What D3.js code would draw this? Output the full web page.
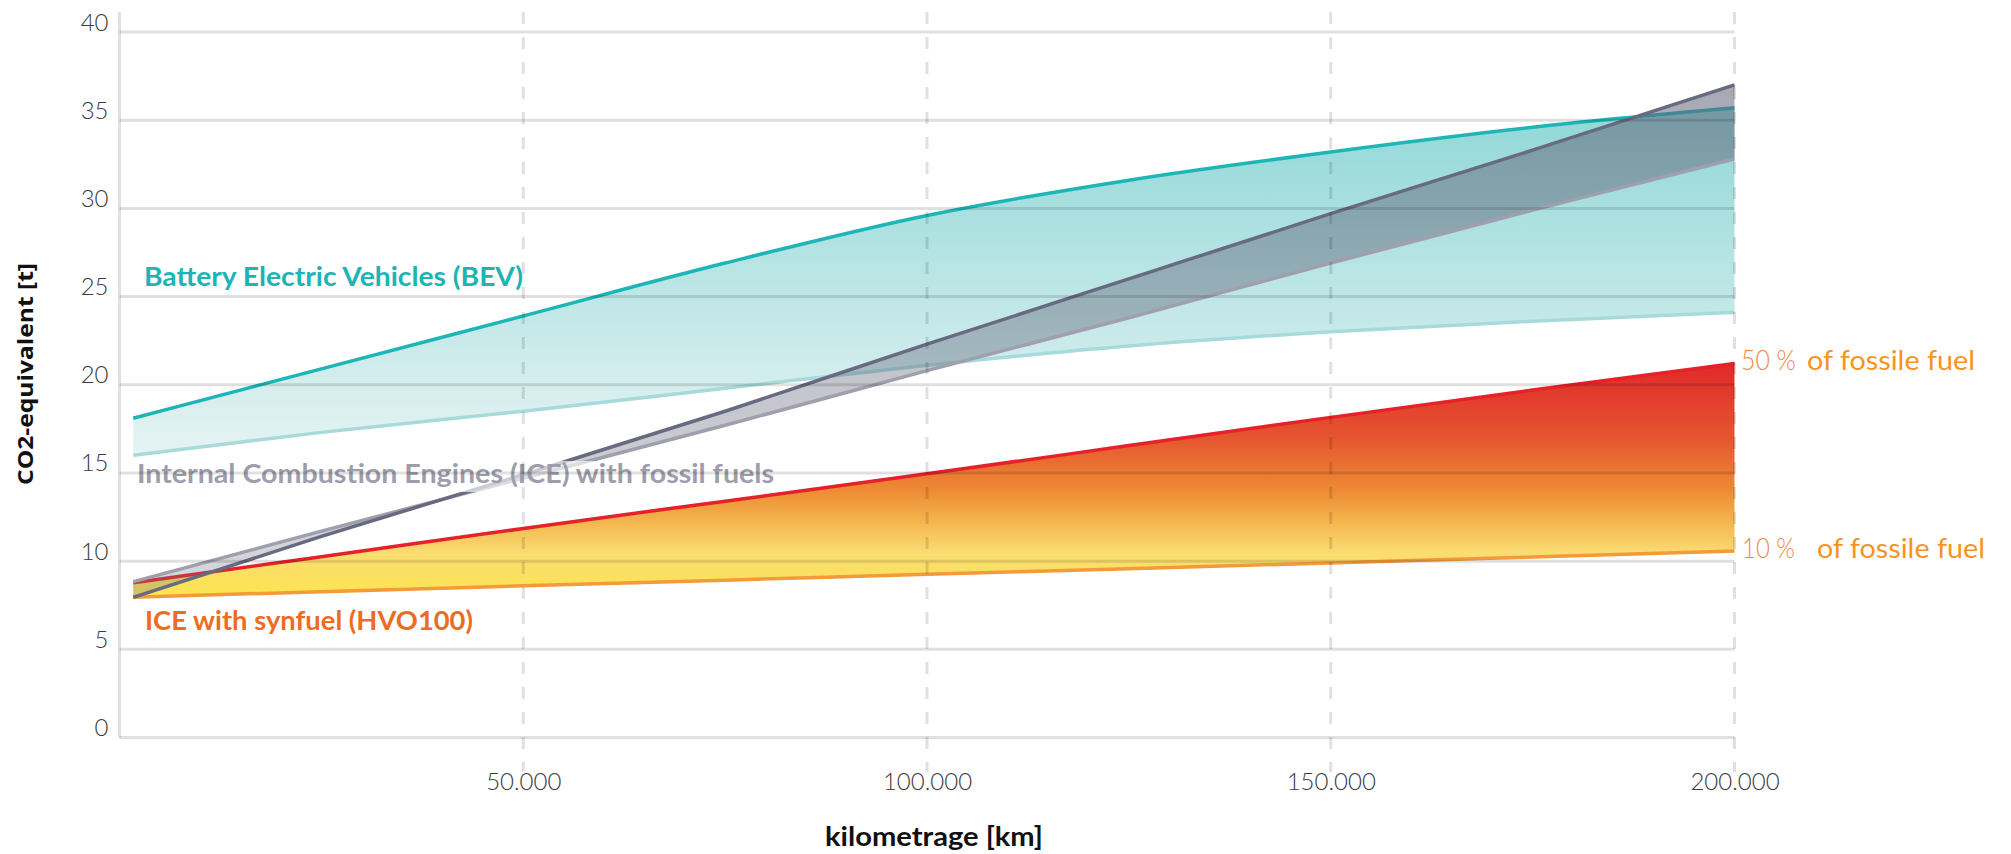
<!DOCTYPE html>
<html>
<head>
<meta charset="utf-8">
<script src="https://cdn.jsdelivr.net/npm/d3@7"></script>
<style>
  html, body { margin: 0; padding: 0; background: #ffffff; }
  svg { display: block; }
</style>
</head>
<body>
<svg id="chart" width="2011" height="854"></svg>
<script>
// Lifetime CO2 footprint by kilometrage (t CO2-eq)
const kmTicks = [50000, 100000, 150000, 200000];
const co2Ticks = [0, 5, 10, 15, 20, 25, 30, 35, 40];
const kmTickLabels = ["50.000", "100.000", "150.000", "200.000"];

const km      = [1700, 25000, 50000, 75000, 100000, 125000, 150000, 175000, 200000];
const bevHigh = [18.1, 20.9, 23.9, 26.9, 29.6, 31.6, 33.2, 34.6, 35.7];
const bevLow  = [16.0, 17.3, 18.5, 19.8, 21.1, 22.2, 23.0, 23.6, 24.1];
const iceFossilHigh = [7.95, 11.4, 14.9, 18.5, 22.3, 26.0, 29.7, 33.3, 37.0];
const iceFossilLow  = [8.83, 11.7, 14.7, 17.7, 20.8, 23.8, 26.9, 29.9, 32.8];
const synfuel50 = [8.78, 10.25, 11.85, 13.4, 14.95, 16.55, 18.15, 19.7, 21.2];
const synfuel10 = [7.95, 8.27, 8.6, 8.92, 9.25, 9.57, 9.9, 10.23, 10.57];

const rows = km.map((k, i) => ({
  k,
  bevHigh: bevHigh[i], bevLow: bevLow[i],
  iceHigh: iceFossilHigh[i], iceLow: iceFossilLow[i],
  syn50: synfuel50[i], syn10: synfuel10[i]
}));

const svg = d3.select("#chart");
const defs = svg.append("defs");

const x = d3.scaleLinear().domain([0, 200000]).range([119.5, 1734.5]);
const y = d3.scaleLinear().domain([0, 40]).range([737.5, 32]);

const LABEL_FONT = "Lato, 'Source Sans Pro', 'Open Sans', sans-serif";

// vertical gradient defined in data units
function valueGradient(id, stops) {
  const g = defs.append("linearGradient")
    .attr("id", id)
    .attr("gradientUnits", "userSpaceOnUse")
    .attr("x1", 0).attr("x2", 0)
    .attr("y1", y(stops[0].v)).attr("y2", y(stops[stops.length - 1].v));
  const top = y(stops[0].v), bot = y(stops[stops.length - 1].v);
  stops.forEach(s => {
    g.append("stop")
      .attr("offset", (y(s.v) - top) / (bot - top))
      .attr("stop-color", s.c)
      .attr("stop-opacity", s.o == null ? 1 : s.o);
  });
}

valueGradient("bevFill", [
  { v: 36, c: "#8fd7d7" },
  { v: 16, c: "#e6f3f3" }
]);
valueGradient("synFill", [
  { v: 21.5, c: "#e0262a" },
  { v: 17,   c: "#e5552f" },
  { v: 14,   c: "#ee8b34" },
  { v: 12,   c: "#f5bb52" },
  { v: 10.5, c: "#fadc72" },
  { v: 7.9,  c: "#fde54e" }
]);
valueGradient("iceFill", [
  { v: 37, c: "#5f6276", o: 0.55 },
  { v: 8,  c: "#6b6e82", o: 0.27 }
]);

const curve = d3.curveMonotoneX;
const band = (lo, hi) => d3.area().curve(curve).x(d => x(d.k)).y0(d => y(d[lo])).y1(d => y(d[hi]));
const line = key => d3.line().curve(curve).x(d => x(d.k)).y(d => y(d[key]));

const marks = svg.append("g");

// Battery electric vehicles
marks.append("path").datum(rows).attr("d", band("bevLow", "bevHigh")).attr("fill", "url(#bevFill)");
marks.append("path").datum(rows).attr("d", line("bevLow")).attr("fill", "none")
  .attr("stroke", "#a7dadb").attr("stroke-width", 3.5);
marks.append("path").datum(rows).attr("d", line("bevHigh")).attr("fill", "none")
  .attr("stroke", "#1db5b6").attr("stroke-width", 3.5);

// ICE with synfuel
marks.append("path").datum(rows).attr("d", band("syn10", "syn50")).attr("fill", "url(#synFill)");
marks.append("path").datum(rows).attr("d", line("syn10")).attr("fill", "none")
  .attr("stroke", "#f39a3a").attr("stroke-width", 3.5);
marks.append("path").datum(rows).attr("d", line("syn50")).attr("fill", "none")
  .attr("stroke", "#e5222a").attr("stroke-width", 3.5);

// ICE with fossil fuels
marks.append("path").datum(rows).attr("d", band("iceLow", "iceHigh")).attr("fill", "url(#iceFill)");
marks.append("path").datum(rows).attr("d", line("iceLow")).attr("fill", "none")
  .attr("stroke", "#a09fad").attr("stroke-width", 3.5);
marks.append("path").datum(rows).attr("d", line("iceHigh")).attr("fill", "none")
  .attr("stroke", "#676a80").attr("stroke-width", 3.5);

// series labels
const labels = svg.append("g").attr("font-family", LABEL_FONT);

labels.append("rect")
  .attr("x", 130).attr("y", 461).attr("width", 652).attr("height", 31)
  .attr("fill", "#ffffff").attr("fill-opacity", 0.65);

function label(txt, x0, base, len, size, weight, color) {
  return labels.append("text")
    .attr("x", x0).attr("y", base)
    .attr("font-size", size).attr("font-weight", weight)
    .attr("fill", color)
    .attr("textLength", len).attr("lengthAdjust", "spacingAndGlyphs")
    .text(txt);
}

label("Battery Electric Vehicles (BEV)", 144, 286, 379, 26, 700, "#1cb4b5");
label("Internal Combustion Engines (ICE) with fossil fuels", 137, 483, 637, 26, 700, "#9d9dab");
label("ICE with synfuel (HVO100)", 145, 630, 328, 26, 700, "#ee6b1f");

const last = rows[rows.length - 1];
label("50 %", 1741, y(last.syn50) + 6, 55, 27, 300, "#f1894a");
label("of fossile fuel", 1807, y(last.syn50) + 6, 168, 27, 400, "#f7941f");
label("10 %", 1742, y(last.syn10) + 7, 53, 27, 300, "#f1894a");
label("of fossile fuel", 1817, y(last.syn10) + 7, 168, 27, 400, "#f7941f");

// grid, drawn over the bands
const grid = svg.append("g").attr("stroke", "#000").attr("stroke-opacity", 0.12).attr("stroke-width", 3);
grid.selectAll("line.h").data(co2Ticks).join("line")
  .attr("class", "h")
  .attr("x1", x(0)).attr("x2", x(200000))
  .attr("y1", d => y(d)).attr("y2", d => y(d));
grid.append("line")
  .attr("x1", x(0)).attr("x2", x(0))
  .attr("y1", 12).attr("y2", y(0));
grid.selectAll("line.v").data(kmTicks).join("line")
  .attr("class", "v")
  .attr("x1", d => x(d)).attr("x2", d => x(d))
  .attr("y1", 12).attr("y2", 772)
  .attr("stroke-dasharray", "12 13");

// axes
const yAxis = svg.append("g")
  .attr("transform", `translate(${x(0)},0)`)
  .call(d3.axisLeft(y).tickValues(co2Ticks).tickSize(0).tickPadding(11).tickFormat(d3.format("d")));
yAxis.select(".domain").remove();
yAxis.selectAll("text")
  .attr("dy", -2)
  .attr("font-family", LABEL_FONT).attr("font-weight", 300).attr("font-size", 24)
  .attr("fill", "#3a3a3a");

const xAxis = svg.append("g")
  .attr("transform", `translate(0,${y(0)})`)
  .call(d3.axisBottom(x).tickValues(kmTicks).tickSize(0).tickFormat((d, i) => kmTickLabels[i]));
xAxis.select(".domain").remove();
xAxis.selectAll("text")
  .attr("y", 790 - y(0)).attr("dy", 0)
  .attr("font-family", LABEL_FONT).attr("font-weight", 300).attr("font-size", 24)
  .attr("fill", "#3a3a3a");

// axis titles
svg.append("text")
  .attr("x", 934).attr("y", 846)
  .attr("text-anchor", "middle")
  .attr("font-family", LABEL_FONT).attr("font-weight", 700).attr("font-size", 27)
  .attr("fill", "#111")
  .attr("textLength", 218).attr("lengthAdjust", "spacingAndGlyphs")
  .text("kilometrage [km]");

svg.append("text")
  .attr("transform", "translate(33,374) rotate(-90)")
  .attr("text-anchor", "middle")
  .attr("font-family", "'Open Sans', 'DejaVu Sans', sans-serif").attr("font-weight", 700).attr("font-size", 22)
  .attr("fill", "#111")
  .attr("textLength", 222).attr("lengthAdjust", "spacingAndGlyphs")
  .text("CO2-equivalent [t]");
</script>
</body>
</html>
